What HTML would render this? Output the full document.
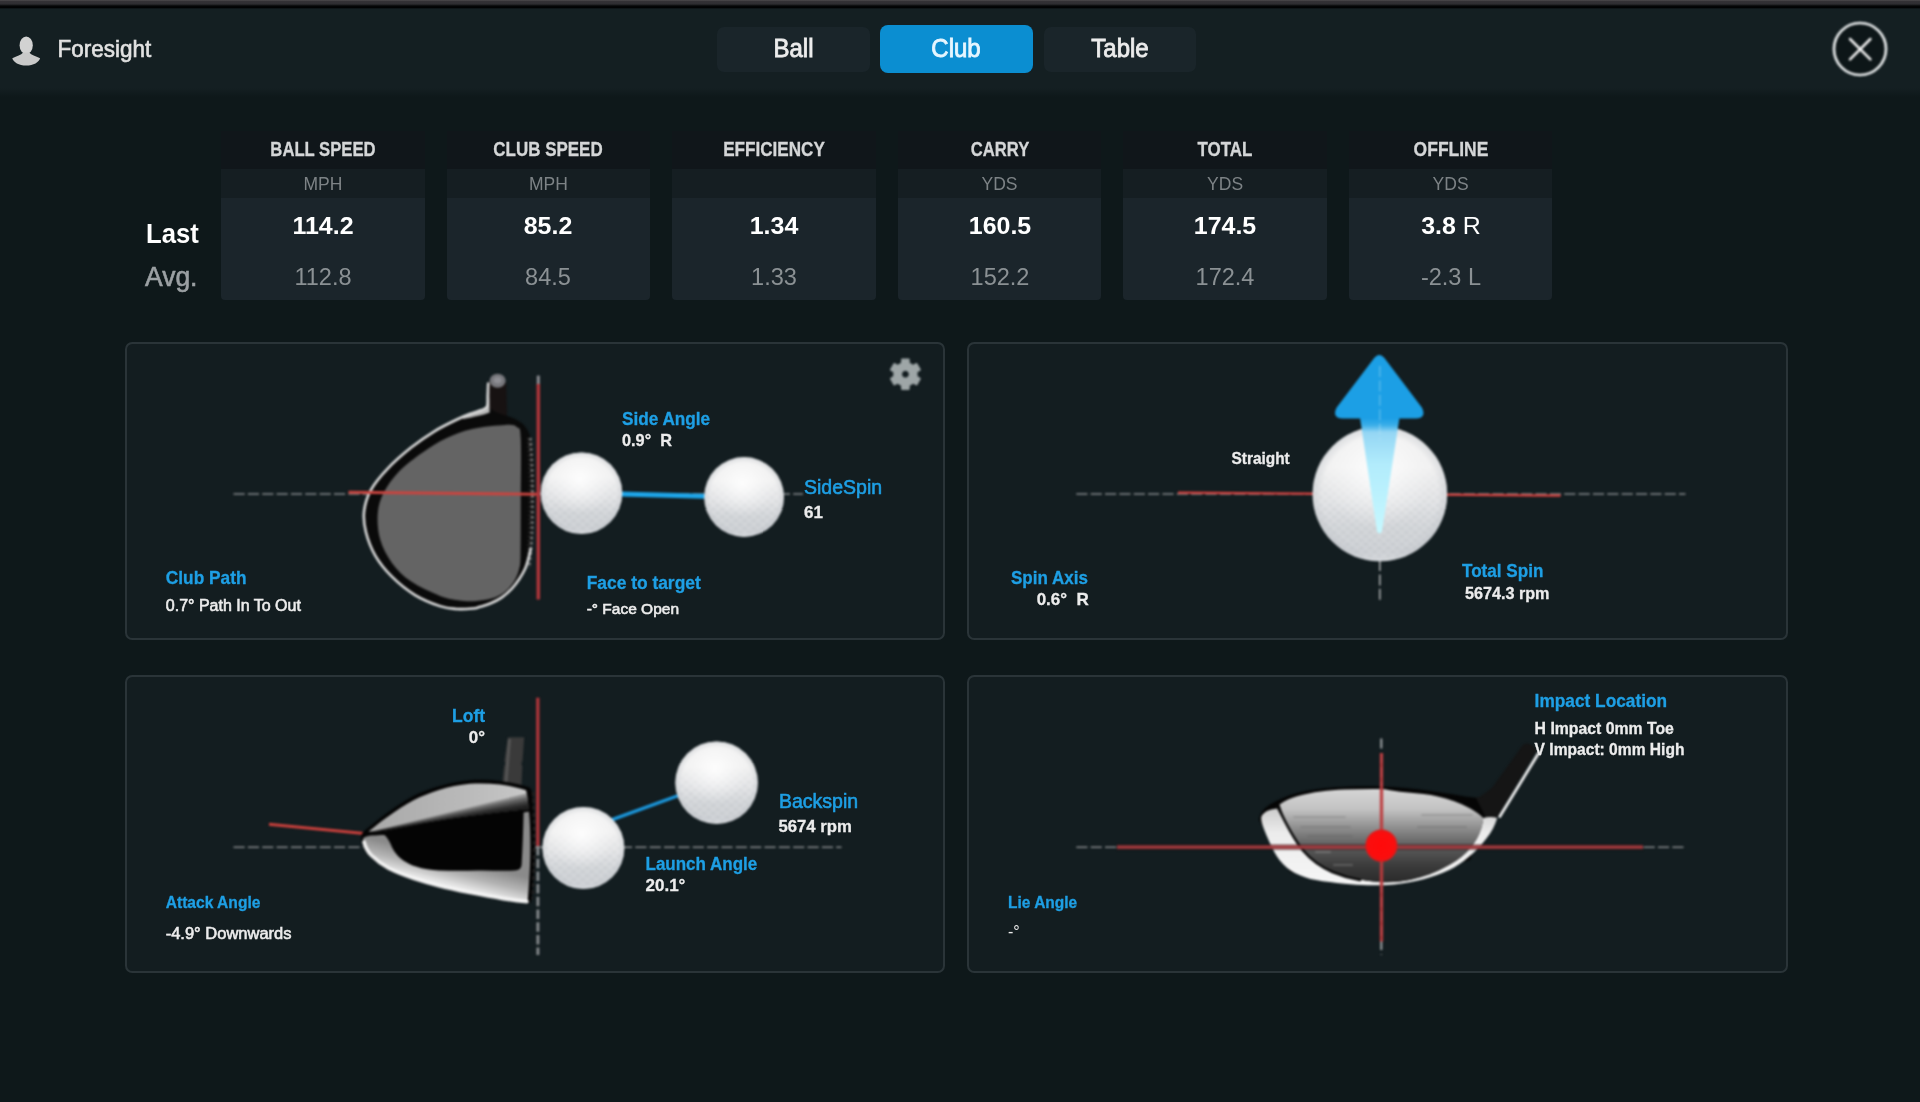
<!DOCTYPE html>
<html lang="en">
<head>
<meta charset="utf-8">
<title>Foresight - Club Data</title>
<style>
html,body{margin:0;padding:0}
body{width:1920px;height:1102px;overflow:hidden;position:relative;background:#0e181a;
 font-family:"Liberation Sans",sans-serif;color:#ececec}
.abs{position:absolute}
.t{position:absolute;line-height:1;white-space:pre;margin:0}
.topstrip{position:absolute;left:0;top:0;width:1920px;height:9px;
 background:linear-gradient(to bottom,#4e4b4e 0,#333135 1.5px,#2e2d31 4px,#050607 6px,#020304 7.5px,#141f22 9px)}
.header{position:absolute;left:0;top:0;width:1920px;height:98px;
 background:linear-gradient(to bottom,#141f22 0,#141f22 88px,#0e181a 97px)}
.tab{position:absolute;border-radius:7px;background:#1a252a}
.tab.on{background:#0b8ed1;border-radius:8px}
.card-h{position:absolute;background:#10161a}
.card-u{position:absolute;background:#151e22}
.card-v{position:absolute;background:#1b252b;border-radius:0 0 4px 4px}
.panel{position:absolute;box-sizing:border-box;border:2.6px solid #2a3438;border-radius:7.2px;background:#131d20}
svg{position:absolute;left:0;top:0;overflow:visible}
.gfx{filter:blur(0.8px)}
.t{filter:blur(0.55px)}
.panel,.tab,.card-h,.card-u,.card-v{filter:blur(0.6px)}
</style>
</head>
<body>
<div class="header"></div>
<div class="topstrip"></div>

<svg width="60" height="90" viewBox="0 0 60 90">
 <ellipse cx="26.2" cy="45.2" rx="6.6" ry="8.8" fill="#d2d2d2"/>
 <path d="M12.3 58.2 C17 56.2 21 55 23.2 52.5 L29.2 52.5 C31.4 55 35.4 56.2 40.1 58.2 C39 62.2 33.5 65.6 26.2 65.6 C18.9 65.6 13.4 62.2 12.3 58.2Z" fill="#c9c9c9"/>
</svg>
<div class="t" style="top:38.95px;font-size:22.50px;font-weight:400;color:#e2e2e2;left:57.50px;transform:scale(1.000,1.060);transform-origin:left 84.65%;-webkit-text-stroke:0.6px #e2e2e2;">Foresight</div>
<div class="tab" style="left:717px;top:26.5px;width:153px;height:45.5px"></div>
<div class="tab on" style="left:879.5px;top:25px;width:153.5px;height:47.5px"></div>
<div class="tab" style="left:1044px;top:26.5px;width:152px;height:45.5px"></div>
<div class="t" style="top:37.38px;font-size:24.00px;font-weight:400;color:#ececec;left:593.50px;width:400px;text-align:center;transform:scale(1.000,1.040);transform-origin:center 84.65%;-webkit-text-stroke:0.6px #ececec;-webkit-text-stroke:0.8px #ececec;">Ball</div>
<div class="t" style="top:37.38px;font-size:24.00px;font-weight:400;color:#e6f6ff;left:756.00px;width:400px;text-align:center;transform:scale(1.000,1.040);transform-origin:center 84.65%;-webkit-text-stroke:0.6px #e6f6ff;-webkit-text-stroke:0.8px #e6f6ff;">Club</div>
<div class="t" style="top:37.38px;font-size:24.00px;font-weight:400;color:#ececec;left:920.00px;width:400px;text-align:center;transform:scale(1.000,1.040);transform-origin:center 84.65%;-webkit-text-stroke:0.6px #ececec;-webkit-text-stroke:0.8px #ececec;">Table</div>
<svg class="gfx" width="1920" height="100" viewBox="0 0 1920 100">
 <circle cx="1860" cy="49" r="26" fill="#0d1618" stroke="#e8ebec" stroke-width="2.7"/>
 <path d="M1850 39 L1870.4 59.4 M1870.4 39 L1850 59.4" stroke="#f2f2f2" stroke-width="2.5" stroke-linecap="round" fill="none"/>
</svg>
<div class="t" style="top:221.04px;font-size:27.00px;font-weight:700;color:#ffffff;left:145.50px;transform:scale(0.950,1.000);transform-origin:left 84.65%;">Last</div>
<div class="t" style="top:264.14px;font-size:27.00px;font-weight:400;color:#9ca1a4;left:145.00px;transform:scale(0.980,1.000);transform-origin:left 84.65%;-webkit-text-stroke:0.6px #9ca1a4;">Avg.</div>
<div class="card-h" style="left:221.25px;top:131px;width:203.25px;height:38px"></div>
<div class="card-u" style="left:221.25px;top:169px;width:203.25px;height:29px"></div>
<div class="card-v" style="left:221.25px;top:198px;width:203.25px;height:102px"></div>
<div class="t" style="top:139.92px;font-size:19.00px;font-weight:700;color:#d4d6d7;left:122.88px;width:400px;text-align:center;transform:scale(0.877,1.100);transform-origin:center 84.65%;-webkit-text-stroke:0.3px #d4d6d7;">BALL SPEED</div>
<div class="t" style="top:175.94px;font-size:17.50px;font-weight:400;color:#7d8386;left:122.88px;width:400px;text-align:center;">MPH</div>
<div class="t" style="top:214.18px;font-size:24.00px;font-weight:700;color:#ffffff;left:122.88px;width:400px;text-align:center;transform:scale(1.040,1.000);transform-origin:center 84.65%;">114.2</div>
<div class="t" style="top:264.68px;font-size:24.00px;font-weight:400;color:#8b9194;left:122.88px;width:400px;text-align:center;transform:scale(0.980,1.000);transform-origin:center 84.65%;">112.8</div>
<div class="card-h" style="left:446.80px;top:131px;width:203.25px;height:38px"></div>
<div class="card-u" style="left:446.80px;top:169px;width:203.25px;height:29px"></div>
<div class="card-v" style="left:446.80px;top:198px;width:203.25px;height:102px"></div>
<div class="t" style="top:139.92px;font-size:19.00px;font-weight:700;color:#d4d6d7;left:348.42px;width:400px;text-align:center;transform:scale(0.893,1.100);transform-origin:center 84.65%;-webkit-text-stroke:0.3px #d4d6d7;">CLUB SPEED</div>
<div class="t" style="top:175.94px;font-size:17.50px;font-weight:400;color:#7d8386;left:348.42px;width:400px;text-align:center;">MPH</div>
<div class="t" style="top:214.18px;font-size:24.00px;font-weight:700;color:#ffffff;left:348.42px;width:400px;text-align:center;transform:scale(1.040,1.000);transform-origin:center 84.65%;">85.2</div>
<div class="t" style="top:264.68px;font-size:24.00px;font-weight:400;color:#8b9194;left:348.42px;width:400px;text-align:center;transform:scale(0.980,1.000);transform-origin:center 84.65%;">84.5</div>
<div class="card-h" style="left:672.35px;top:131px;width:203.25px;height:38px"></div>
<div class="card-u" style="left:672.35px;top:169px;width:203.25px;height:29px"></div>
<div class="card-v" style="left:672.35px;top:198px;width:203.25px;height:102px"></div>
<div class="t" style="top:139.92px;font-size:19.00px;font-weight:700;color:#d4d6d7;left:573.98px;width:400px;text-align:center;transform:scale(0.900,1.100);transform-origin:center 84.65%;-webkit-text-stroke:0.3px #d4d6d7;">EFFICIENCY</div>
<div class="t" style="top:214.18px;font-size:24.00px;font-weight:700;color:#ffffff;left:573.98px;width:400px;text-align:center;transform:scale(1.040,1.000);transform-origin:center 84.65%;">1.34</div>
<div class="t" style="top:264.68px;font-size:24.00px;font-weight:400;color:#8b9194;left:573.98px;width:400px;text-align:center;transform:scale(0.980,1.000);transform-origin:center 84.65%;">1.33</div>
<div class="card-h" style="left:897.90px;top:131px;width:203.25px;height:38px"></div>
<div class="card-u" style="left:897.90px;top:169px;width:203.25px;height:29px"></div>
<div class="card-v" style="left:897.90px;top:198px;width:203.25px;height:102px"></div>
<div class="t" style="top:139.92px;font-size:19.00px;font-weight:700;color:#d4d6d7;left:799.53px;width:400px;text-align:center;transform:scale(0.875,1.100);transform-origin:center 84.65%;-webkit-text-stroke:0.3px #d4d6d7;">CARRY</div>
<div class="t" style="top:175.94px;font-size:17.50px;font-weight:400;color:#7d8386;left:799.53px;width:400px;text-align:center;">YDS</div>
<div class="t" style="top:214.18px;font-size:24.00px;font-weight:700;color:#ffffff;left:799.53px;width:400px;text-align:center;transform:scale(1.040,1.000);transform-origin:center 84.65%;">160.5</div>
<div class="t" style="top:264.68px;font-size:24.00px;font-weight:400;color:#8b9194;left:799.53px;width:400px;text-align:center;transform:scale(0.980,1.000);transform-origin:center 84.65%;">152.2</div>
<div class="card-h" style="left:1123.45px;top:131px;width:203.25px;height:38px"></div>
<div class="card-u" style="left:1123.45px;top:169px;width:203.25px;height:29px"></div>
<div class="card-v" style="left:1123.45px;top:198px;width:203.25px;height:102px"></div>
<div class="t" style="top:139.92px;font-size:19.00px;font-weight:700;color:#d4d6d7;left:1025.08px;width:400px;text-align:center;transform:scale(0.892,1.100);transform-origin:center 84.65%;-webkit-text-stroke:0.3px #d4d6d7;">TOTAL</div>
<div class="t" style="top:175.94px;font-size:17.50px;font-weight:400;color:#7d8386;left:1025.08px;width:400px;text-align:center;">YDS</div>
<div class="t" style="top:214.18px;font-size:24.00px;font-weight:700;color:#ffffff;left:1025.08px;width:400px;text-align:center;transform:scale(1.040,1.000);transform-origin:center 84.65%;">174.5</div>
<div class="t" style="top:264.68px;font-size:24.00px;font-weight:400;color:#8b9194;left:1025.08px;width:400px;text-align:center;transform:scale(0.980,1.000);transform-origin:center 84.65%;">172.4</div>
<div class="card-h" style="left:1349.00px;top:131px;width:203.25px;height:38px"></div>
<div class="card-u" style="left:1349.00px;top:169px;width:203.25px;height:29px"></div>
<div class="card-v" style="left:1349.00px;top:198px;width:203.25px;height:102px"></div>
<div class="t" style="top:139.92px;font-size:19.00px;font-weight:700;color:#d4d6d7;left:1250.62px;width:400px;text-align:center;transform:scale(0.920,1.100);transform-origin:center 84.65%;-webkit-text-stroke:0.3px #d4d6d7;">OFFLINE</div>
<div class="t" style="top:175.94px;font-size:17.50px;font-weight:400;color:#7d8386;left:1250.62px;width:400px;text-align:center;">YDS</div>
<div class="t" style="top:214.18px;font-size:24.00px;font-weight:700;color:#ffffff;left:1250.62px;width:400px;text-align:center;transform:scale(1.040,1.000);transform-origin:center 84.65%;">3.8 <span style="font-weight:400">R</span></div>
<div class="t" style="top:264.68px;font-size:24.00px;font-weight:400;color:#8b9194;left:1250.62px;width:400px;text-align:center;transform:scale(0.980,1.000);transform-origin:center 84.65%;">-2.3 L</div>
<div class="panel" style="left:124.5px;top:341.8px;width:820.9px;height:298.1px"></div>
<div class="panel" style="left:967.0px;top:341.8px;width:821.3px;height:298.1px"></div>
<div class="panel" style="left:124.5px;top:674.8px;width:820.9px;height:297.8px"></div>
<div class="panel" style="left:967.0px;top:674.8px;width:821.3px;height:297.8px"></div>
<svg class="gfx" width="1920" height="1102" viewBox="0 0 1920 1102">
<defs>
 <linearGradient id="ball" x1="0" y1="0" x2="0" y2="1">
  <stop offset="0" stop-color="#efefef"/>
  <stop offset="0.3" stop-color="#f1f1f1"/>
  <stop offset="0.55" stop-color="#e4e5e7"/>
  <stop offset="0.75" stop-color="#d4d7da"/>
  <stop offset="0.93" stop-color="#cfd2d6"/>
  <stop offset="1" stop-color="#e2e4e7"/>
 </linearGradient>
 <radialGradient id="ballhl" cx="0.48" cy="0.33" r="0.42">
  <stop offset="0" stop-color="#ffffff" stop-opacity="0.85"/>
  <stop offset="0.6" stop-color="#ffffff" stop-opacity="0.3"/>
  <stop offset="1" stop-color="#ffffff" stop-opacity="0"/>
 </radialGradient>
 <radialGradient id="balledge" cx="0.5" cy="0.5" r="0.5">
  <stop offset="0" stop-color="#b8bcc2" stop-opacity="0"/>
  <stop offset="0.86" stop-color="#b8bcc2" stop-opacity="0"/>
  <stop offset="1" stop-color="#c4c8cd" stop-opacity="0.45"/>
 </radialGradient>
 <pattern id="dimples" width="9" height="7.8" patternUnits="userSpaceOnUse">
  <ellipse cx="2.25" cy="1.95" rx="2.6" ry="1.5" fill="#9aa0a8" fill-opacity="0.16"/>
  <ellipse cx="6.75" cy="5.85" rx="2.6" ry="1.5" fill="#9aa0a8" fill-opacity="0.16"/>
 </pattern>
 <linearGradient id="dimfade" x1="0" y1="0" x2="0" y2="1">
  <stop offset="0.3" stop-color="#fff" stop-opacity="0"/>
  <stop offset="0.62" stop-color="#fff" stop-opacity="0.9"/>
  <stop offset="1" stop-color="#fff" stop-opacity="1"/>
 </linearGradient>
 <linearGradient id="arrowg" x1="0" y1="354" x2="0" y2="532" gradientUnits="userSpaceOnUse">
  <stop offset="0" stop-color="#1c9fe5"/>
  <stop offset="0.36" stop-color="#1c9fe5"/>
  <stop offset="0.40" stop-color="#3aaee9"/>
  <stop offset="0.44" stop-color="#94d6f4"/>
  <stop offset="0.62" stop-color="#b2ecfc"/>
  <stop offset="1" stop-color="#c6f8ff"/>
 </linearGradient>
 <linearGradient id="crowng" x1="365" y1="0" x2="530" y2="0" gradientUnits="userSpaceOnUse">
  <stop offset="0" stop-color="#a8a8a8"/>
  <stop offset="0.5" stop-color="#b6b6b6"/>
  <stop offset="0.85" stop-color="#c2c2c2"/>
  <stop offset="1" stop-color="#cacaca"/>
 </linearGradient>
 <linearGradient id="soleg" x1="450" y1="890" x2="457.5" y2="860" gradientUnits="userSpaceOnUse">
  <stop offset="0" stop-color="#f6f6f6"/>
  <stop offset="0.2" stop-color="#e2e2e2"/>
  <stop offset="0.55" stop-color="#b4b4b4"/>
  <stop offset="1" stop-color="#8a8a8a"/>
 </linearGradient>
 <linearGradient id="solef" x1="0" y1="805" x2="0" y2="886" gradientUnits="userSpaceOnUse">
  <stop offset="0" stop-color="#c8c8c8"/>
  <stop offset="0.35" stop-color="#ececec"/>
  <stop offset="1" stop-color="#f6f6f6"/>
 </linearGradient>
 <linearGradient id="faceg" x1="0" y1="789" x2="0" y2="882" gradientUnits="userSpaceOnUse">
  <stop offset="0" stop-color="#d6d6d6"/>
  <stop offset="0.22" stop-color="#c2c2c2"/>
  <stop offset="0.42" stop-color="#8e8e8e"/>
  <stop offset="0.62" stop-color="#5c5c5c"/>
  <stop offset="0.82" stop-color="#3c3c3c"/>
  <stop offset="1" stop-color="#2a2a2a"/>
 </linearGradient>
 <radialGradient id="dotg" cx="0.5" cy="0.5" r="0.5">
  <stop offset="0" stop-color="#ff0a0a"/>
  <stop offset="0.8" stop-color="#fb0e0e"/>
  <stop offset="1" stop-color="#e01818"/>
 </radialGradient>
</defs>
<path d="M233.5 493.9 H803" stroke="#85898b" stroke-width="1.55" stroke-dasharray="11.2 3.15" fill="none"/>
<g transform="translate(340 360) scale(0.23599)">
<path d="M630 92 L704 92 L708 240 L622 240 L624 150Z" fill="#171212"/>
<path d="M622.0 205.0C604.7 205.5 580.3 217.5 560.0 225.0C539.7 232.5 526.7 237.2 500.0 250.0C473.3 262.8 433.3 281.7 400.0 302.0C366.7 322.3 333.3 345.3 300.0 372.0C266.7 398.7 228.3 432.0 200.0 462.0C171.7 492.0 146.3 522.0 130.0 552.0C113.7 582.0 105.3 612.3 102.0 642.0C98.7 671.7 102.0 698.7 110.0 730.0C118.0 761.3 131.7 798.7 150.0 830.0C168.3 861.3 192.0 890.3 220.0 918.0C248.0 945.7 284.0 975.2 318.0 996.0C352.0 1016.8 394.8 1033.2 424.0 1043.0C453.2 1052.8 470.0 1053.3 493.0 1055.0C516.0 1056.7 545.3 1054.5 562.0 1053.0C578.7 1051.5 580.2 1049.7 593.0 1046.0C605.8 1042.3 623.5 1037.7 639.0 1031.0C654.5 1024.3 671.2 1016.3 686.0 1006.0C700.8 995.7 715.8 981.8 728.0 969.0C740.2 956.2 749.7 942.8 759.0 929.0C768.3 915.2 777.3 901.0 784.0 886.0C790.7 871.0 794.8 854.3 799.0 839.0C803.2 823.7 806.2 810.5 809.0 794.0C811.8 777.5 813.8 764.0 816.0 740.0C818.2 716.0 820.7 681.7 822.0 650.0C823.3 618.3 824.0 583.3 824.0 550.0C824.0 516.7 823.3 480.0 822.0 450.0C820.7 420.0 819.3 393.0 816.0 370.0C812.7 347.0 808.3 328.0 802.0 312.0C795.7 296.0 788.0 284.3 778.0 274.0C768.0 263.7 754.0 256.3 742.0 250.0C730.0 243.7 719.0 240.7 706.0 236.0C693.0 231.3 678.0 227.2 664.0 222.0C650.0 216.8 639.3 204.5 622.0 205.0Z" fill="#0a0a0a"/>
<path d="M806 330 C814 420 816 520 815 600 C815 700 812 800 800 880" stroke="#8c8c8c" stroke-width="13" stroke-dasharray="12 10" fill="none" opacity="0.8"/>
<path d="M797 330 C803 420 805 520 804 600 C804 700 801 800 790 880" stroke="#2c2c2c" stroke-width="10" stroke-dasharray="7 11" fill="none"/>
<path d="M628.0 100.0C627.7 108.3 626.7 134.0 626.0 150.0C625.3 166.0 628.3 185.7 624.0 196.0C619.7 206.3 610.7 207.2 600.0 212.0C589.3 216.8 576.7 218.7 560.0 225.0C543.3 231.3 526.7 237.2 500.0 250.0C473.3 262.8 433.3 281.7 400.0 302.0C366.7 322.3 333.3 345.3 300.0 372.0C266.7 398.7 228.3 432.0 200.0 462.0C171.7 492.0 146.3 522.0 130.0 552.0C113.7 582.0 105.3 612.3 102.0 642.0C98.7 671.7 102.0 698.7 110.0 730.0C118.0 761.3 131.7 798.7 150.0 830.0C168.3 861.3 192.0 890.3 220.0 918.0C248.0 945.7 284.0 975.2 318.0 996.0C352.0 1016.8 394.8 1033.2 424.0 1043.0C453.2 1052.8 470.0 1053.3 493.0 1055.0C516.0 1056.7 545.3 1054.5 562.0 1053.0C578.7 1051.5 580.2 1049.7 593.0 1046.0C605.8 1042.3 623.5 1037.7 639.0 1031.0C654.5 1024.3 671.2 1016.3 686.0 1006.0C700.8 995.7 715.8 981.8 728.0 969.0C740.2 956.2 749.7 942.8 759.0 929.0C768.3 915.2 777.3 901.0 784.0 886.0C790.7 871.0 795.0 853.3 799.0 839.0C803.0 824.7 806.5 806.5 808.0 800.0" fill="none" stroke="#dcdcdc" stroke-width="11" stroke-linecap="round"/>
<path d="M520 240 C560 226 596 216 620 203 L624 130 L632 130 L634 222 C610 232 570 240 520 250Z" fill="#d8d8d8" opacity="0.85"/>
<ellipse cx="668" cy="88" rx="34" ry="30" fill="#77777c"/>
<ellipse cx="668" cy="86" rx="17" ry="14" fill="#8e8e94"/>
<path d="M700.0 275.0C668.3 276.2 601.7 282.5 560.0 292.0C518.3 301.5 485.0 315.3 450.0 332.0C415.0 348.7 383.3 368.7 350.0 392.0C316.7 415.3 277.5 443.7 250.0 472.0C222.5 500.3 200.0 532.3 185.0 562.0C170.0 591.7 162.5 617.0 160.0 650.0C157.5 683.0 160.0 725.0 170.0 760.0C180.0 795.0 198.3 830.3 220.0 860.0C241.7 889.7 266.0 914.7 300.0 938.0C334.0 961.3 390.7 986.7 424.0 1000.0C457.3 1013.3 477.0 1014.3 500.0 1018.0C523.0 1021.7 541.3 1022.5 562.0 1022.0C582.7 1021.5 606.0 1018.7 624.0 1015.0C642.0 1011.3 655.7 1007.2 670.0 1000.0C684.3 992.8 698.2 983.3 710.0 972.0C721.8 960.7 732.8 946.3 741.0 932.0C749.2 917.7 755.0 903.0 759.0 886.0C763.0 869.0 763.8 877.7 765.0 830.0C766.2 782.3 765.8 683.3 766.0 600.0C766.2 516.7 768.7 382.5 766.0 330.0C763.3 277.5 761.0 294.2 750.0 285.0C739.0 275.8 731.7 273.8 700.0 275.0Z" fill="#646464"/>
</g>
<path d="M348.5 492.3 L537.5 494.2" stroke="#c9443f" stroke-width="2.9" fill="none"/>
<path d="M538.3 375.6 V385" stroke="#8d8d93" stroke-width="3" fill="none"/>
<path d="M538.3 384 V599.5" stroke="#b0363b" stroke-width="3.5" fill="none"/>
<path d="M610 493.7 L715 496.4" stroke="#1ea5e8" stroke-width="5" fill="none"/>
<g><circle cx="581.5" cy="493.2" r="40.8" fill="url(#ball)"/><mask id="m581493"><circle cx="581.5" cy="493.2" r="40.8" fill="url(#dimfade)"/></mask><circle cx="581.5" cy="493.2" r="39.3" fill="url(#dimples)" mask="url(#m581493)"/><circle cx="581.5" cy="493.2" r="40.8" fill="url(#ballhl)"/><circle cx="581.5" cy="493.2" r="40.8" fill="url(#balledge)"/></g>
<g><circle cx="744.1" cy="497.0" r="39.9" fill="url(#ball)"/><mask id="m744497"><circle cx="744.1" cy="497.0" r="39.9" fill="url(#dimfade)"/></mask><circle cx="744.1" cy="497.0" r="38.4" fill="url(#dimples)" mask="url(#m744497)"/><circle cx="744.1" cy="497.0" r="39.9" fill="url(#ballhl)"/><circle cx="744.1" cy="497.0" r="39.9" fill="url(#balledge)"/></g>
<path d="M901.89 363.25 L902.01 359.38 L908.79 359.38 L908.91 363.25 L913.13 365.69 L916.54 363.85 L919.93 369.73 L916.64 371.76 L916.64 376.64 L919.93 378.67 L916.54 384.55 L913.13 382.71 L908.91 385.15 L908.79 389.02 L902.01 389.02 L901.89 385.15 L897.67 382.71 L894.26 384.55 L890.87 378.67 L894.16 376.64 L894.16 371.76 L890.87 369.73 L894.26 363.85 L897.67 365.69Z M905.40 369.90 a4.3 4.3 0 1 0 0.01 0Z" fill="#9ea6a7" fill-rule="evenodd" stroke="#9ea6a7" stroke-width="1.8" stroke-linejoin="round"/>
<path d="M1076.3 494 H1685.5" stroke="#85898b" stroke-width="1.55" stroke-dasharray="11.2 3.15" fill="none"/>
<path d="M1178 492.6 L1560.7 495.6" stroke="#d6403e" stroke-width="2.3" fill="none"/>
<path d="M1379.8 560 V601.5" stroke="#a9acad" stroke-width="1.6" stroke-dasharray="11 3.4" fill="none"/>
<g><circle cx="1379.9" cy="494.0" r="67.3" fill="url(#ball)"/><mask id="m1379494"><circle cx="1379.9" cy="494.0" r="67.3" fill="url(#dimfade)"/></mask><circle cx="1379.9" cy="494.0" r="65.8" fill="url(#dimples)" mask="url(#m1379494)"/><circle cx="1379.9" cy="494.0" r="67.3" fill="url(#ballhl)"/><circle cx="1379.9" cy="494.0" r="67.3" fill="url(#balledge)"/></g>
<path d="M1379.3 357.5 Q1379.3 354 1384 359 L1421 408 Q1425.5 417.5 1416 417.5 L1398.5 417.5 L1381 531 Q1379.5 534 1378 531 L1361 417.5 L1342.5 417.5 Q1333 417.5 1337.5 408 L1374.6 359 Q1379.3 354 1379.3 357.5Z" fill="url(#arrowg)" stroke="url(#arrowg)" stroke-width="2" stroke-linejoin="round"/>
<path d="M1379.8 366 V440" stroke="#bfe6f7" stroke-opacity="0.32" stroke-width="1.6" stroke-dasharray="11 3.4" fill="none"/>
<path d="M233.5 847.3 H841.5" stroke="#85898b" stroke-width="1.55" stroke-dasharray="11.2 3.15" fill="none"/>
<path d="M537.9 846 V955" stroke="#8a8e90" stroke-width="2.8" stroke-dasharray="9.5 3.2" fill="none"/>
<path d="M269 824.3 L364 833.5" stroke="#c9403c" stroke-width="3" fill="none"/>
<path d="M507.9 737.2 L524.2 737.2 L522.6 760.5 L521.4 763.6 L522.4 766.5 L521.5 785 L502.1 784 L504 766.5 L505.2 763.6 L504.4 760.5Z" fill="#3a3a3a"/>
<path d="M509.5 739 L506 782" stroke="#555" stroke-width="3" fill="none"/>
<path d="M361.3 835 C363 831.5 366 829.5 370 826.3 C376 821.5 382 816.5 388 812.3 C396 806.8 404 801 413 796.3 C421 792 430 789 439 786.3 C449 783.3 459 781.3 470 780.3 C480 779.4 490 779.8 500 781 C510 782.2 520 784.5 528.3 787 C530.5 787.7 531.3 789 531.8 791 C534.5 810 535.2 830 535 846 C534.8 866 533.5 885 531.3 900.5 C530.8 903 529.5 903.6 527 903.4 C519 902.6 511 901.3 503 900 C494 898.6 485 897 476 895.3 C467 893.6 458 891.8 449 889.7 C440 887.6 430.5 885 421.5 882.2 C412 879.3 403 876.5 394.5 873 C388 870.3 381.5 866.5 376 862 C371.5 858.3 368 855 365.3 851 C362.5 846.8 360.5 840.5 361.3 835Z" fill="#040404"/>
<clipPath id="crownclip"><path d="M368.5 831.6 C375 826.5 381.5 821 388.1 816.5 C396 811 404.5 805 413.5 800.3 C421.5 796.2 430 792.8 438.9 790 C449 786.9 459.5 784.8 470 783.8 C480 783 490 783.4 500 784.6 C509 785.7 518 787.8 526 790.2 C527.5 796 528.3 803 528.5 809.3 C520 810 511.5 810.8 503 811.8 C491 813.2 479 814.7 467 816.3 C455 817.9 443 819.7 430.8 821.7 C425 822.6 419.3 823.8 413.5 825 C405 826.7 396.5 828.5 388.1 830 C381.5 831.2 375 832 368.5 831.6Z"/></clipPath>
<path d="M368.5 831.6 C375 826.5 381.5 821 388.1 816.5 C396 811 404.5 805 413.5 800.3 C421.5 796.2 430 792.8 438.9 790 C449 786.9 459.5 784.8 470 783.8 C480 783 490 783.4 500 784.6 C509 785.7 518 787.8 526 790.2 C527.5 796 528.3 803 528.5 809.3 C520 810 511.5 810.8 503 811.8 C491 813.2 479 814.7 467 816.3 C455 817.9 443 819.7 430.8 821.7 C425 822.6 419.3 823.8 413.5 825 C405 826.7 396.5 828.5 388.1 830 C381.5 831.2 375 832 368.5 831.6Z" fill="url(#crowng)"/>
<g clip-path="url(#crownclip)" fill="#000" fill-opacity="0.3">
<path d="M366 832.8 L531 792.5 L531 812 L366 835Z"/>
<path d="M366 832.8 L531 796.0 L531 812 L366 835Z"/>
<path d="M366 832.8 L531 799.5 L531 812 L366 835Z"/>
<path d="M366 832.8 L531 802.5 L531 812 L366 835Z"/>
<path d="M366 832.8 L531 805.0 L531 812 L366 835Z"/>
<path d="M366 832.8 L531 807.5 L531 812 L366 835Z"/>
</g>
<path d="M363 838.3 C366 836.3 369 835.8 372 835.6 C376 835.3 380.5 835 384.3 835 C386.5 836.5 388 839 389.4 841.5 C391 845 392.5 848.5 394.4 851.5 C396.8 855.2 399.8 858 403.3 860.4 C407.2 863 411.5 865 416 866.6 C423.5 869.2 431 870 439 870.4 C452 871 465 870.8 478 870.6 C490 870.4 503 871.2 515 870.6 C519 870.2 521.2 868.5 521.6 865 C522.6 848 523.2 830 523.6 812.5 C525.5 812 527.3 811.8 529 811.8 C530.3 825 530.5 840 530.3 855 C530 870 529 886 527.6 901.4 C519 900.6 511 899.4 503 898.1 C492 896.4 481 894.3 470 892.1 C459.5 890 449.2 887.9 439 885.3 C430.5 883.1 422 880.6 413.5 877.8 C405 875 397 872.3 389 868 C383.5 865 379 861.5 375 857.5 C371 853.5 368 850 366 846 C364.5 843.5 363.5 841 363 838.3Z" fill="url(#soleg)"/>
<path d="M364 842 C365 846.5 367.5 851.5 371.5 855.5 C376.5 860.5 382.5 865 389 868.5 C397 872.5 405 875.5 413.5 878.3 C422 881.1 430.5 883.6 439 885.8 C449.2 888.4 459.5 890.5 470 892.6 C481 894.8 492 896.9 503 898.6 C511 899.9 519 901 527 901.6" stroke="#fafafa" stroke-width="3.6" fill="none" stroke-linecap="round" opacity="0.95"/>
<path d="M533.2 792 C535 820 535 870 532.5 899" stroke="#202020" stroke-width="3" stroke-dasharray="4 3" fill="none"/>
<path d="M537.8 697.7 V846" stroke="#b0363b" stroke-width="3.3" fill="none"/>
<path d="M606 821.8 L684 793.5" stroke="#1b97dc" stroke-width="3.4" fill="none"/>
<g><circle cx="583.4" cy="848.0" r="41.0" fill="url(#ball)"/><mask id="m583848"><circle cx="583.4" cy="848.0" r="41.0" fill="url(#dimfade)"/></mask><circle cx="583.4" cy="848.0" r="39.5" fill="url(#dimples)" mask="url(#m583848)"/><circle cx="583.4" cy="848.0" r="41.0" fill="url(#ballhl)"/><circle cx="583.4" cy="848.0" r="41.0" fill="url(#balledge)"/></g>
<g><circle cx="716.6" cy="782.7" r="41.3" fill="url(#ball)"/><mask id="m716782"><circle cx="716.6" cy="782.7" r="41.3" fill="url(#dimfade)"/></mask><circle cx="716.6" cy="782.7" r="39.8" fill="url(#dimples)" mask="url(#m716782)"/><circle cx="716.6" cy="782.7" r="41.3" fill="url(#ballhl)"/><circle cx="716.6" cy="782.7" r="41.3" fill="url(#balledge)"/></g>
<path d="M1076.3 847.3 H1119 M1643.6 847.3 H1685" stroke="#85898b" stroke-width="1.55" stroke-dasharray="11.2 3.15" fill="none"/>
<path d="M1381.3 738.5 V955" stroke="#a2a5a7" stroke-width="2" stroke-dasharray="10 4.4" fill="none"/>
<path d="M1521.9 746.2 C1524 743.5 1527 743 1530 744.3 C1533 745.6 1535.5 747.5 1536.6 750.2 L1499.5 813.5 C1497 818 1494 822 1490 824 L1470 806 L1455 797.5 C1463 797.8 1472 798.5 1480.2 796.4 C1485 793.5 1489 790.5 1492.6 787.1Z" fill="#151515"/>
<path d="M1538.4 753.5 L1499.8 816.5" stroke="#f2f2f2" stroke-width="2.8" fill="none" stroke-linecap="round"/>
<path d="M1259 820 C1259.5 814 1263 809 1270 804.5 C1279 799 1288 795.5 1297.2 793 C1312 789.5 1328 787.6 1344.3 786.8 C1356 786.3 1368 786.2 1379.7 786.4 C1397 786.7 1414 788.3 1430.9 791 C1446 793.3 1462 796 1476 798 L1486 818 L1470 860 L1381 886 L1290 872Z" fill="#050505"/>
<path d="M1261.2 817.2 C1263 812.5 1268 809.5 1277.1 808.5 C1285 822 1293 838 1303.1 850.2 C1312 861 1322 867 1332.5 871.4 C1347 877.5 1363 880.8 1379.7 882 C1386 882.4 1393 882.3 1400 881.5 C1413 880 1426 876 1438.6 870.4 C1447 866.5 1455 862 1461.7 856.5 C1468 851.3 1473.5 845 1477.2 838 C1480.5 832 1482.5 825 1483.3 818 C1488 816.5 1493 816.5 1497.2 818 C1495 825.5 1491.5 832 1486.4 838.6 C1482.5 843.7 1478 849 1472.5 853.8 C1467 858.6 1461 863.5 1454 867.5 C1447 871.5 1439 874.5 1430.9 877 C1421 880.1 1411 882.3 1400 883.8 C1389.5 885.2 1379 885.5 1367.9 885.2 C1360 885 1352 884.4 1344.3 883.7 C1334.5 882.8 1325 881.6 1316 880 C1308.5 878.7 1301.5 876.2 1294.8 872.9 C1289 870 1284 865.5 1279.5 859.9 C1275.5 854.9 1272.5 849 1270 843.3 C1267.5 837.5 1264.8 832 1263 826.6 C1261.8 823 1261 820 1261.2 817.2Z" fill="url(#solef)"/>
<path d="M1279.5 804.4 C1285 800.5 1291 798 1297.2 796.2 C1305 793.9 1313 792.4 1320.8 791.4 C1328.5 790.4 1336.5 789.9 1344.3 789.6 C1356 789.1 1368 788.9 1379.7 789 C1386.5 789.1 1393.5 791 1400 791.8 C1410.5 793.1 1421 793.2 1430.9 795 C1441.5 796.9 1452 800 1461.7 804.3 C1470 808 1478 812.5 1483.3 818 C1482.5 825 1480.5 832 1477.2 838 C1473.5 845 1468 851.3 1461.7 856.5 C1455 862 1447 866.5 1438.6 870.4 C1426 876 1413 880 1400 881.5 C1393 882.3 1386 882.4 1379.7 882 C1363 880.8 1347 877.5 1332.5 871.4 C1322 867 1312 861 1303.1 850.2 C1293 838 1285 822 1279.5 804.4Z" fill="url(#faceg)"/>
<path d="M1277.6 806 C1285 822 1293 838 1303.1 850.5 C1312 861 1322 867.5 1332.5 872 C1342 876 1351 878.5 1360 880" stroke="#0a0a0a" stroke-width="2.6" fill="none" stroke-linecap="round"/>
<g stroke-linecap="round" fill="none" opacity="0.55"><path d="M1294 817 H1345" stroke="#8c8c8c" stroke-width="2"/><path d="M1301 827 H1350" stroke="#7a7a7a" stroke-width="2"/><path d="M1308 836 H1352" stroke="#6a6a6a" stroke-width="2"/><path d="M1422 815 H1472" stroke="#8c8c8c" stroke-width="2"/><path d="M1418 827 H1466" stroke="#777" stroke-width="2"/><path d="M1316 852 H1330" stroke="#8a8a8a" stroke-width="2"/><path d="M1334 865 H1352" stroke="#777" stroke-width="2"/></g>
<path d="M1117 847.1 H1643" stroke="#240a0d" stroke-width="6.4" stroke-opacity="0.4" fill="none"/>
<path d="M1117 847.1 H1643" stroke="#a23a3e" stroke-width="3.7" stroke-opacity="0.93" fill="none"/>
<path d="M1381.5 753 V941.6" stroke="#bd3a3c" stroke-width="3.4" stroke-opacity="0.9" fill="none"/>
<circle cx="1381.4" cy="845.6" r="16" fill="url(#dotg)"/>
</svg>
<div class="t" style="top:570.16px;font-size:17.30px;font-weight:700;color:#1e9fe4;left:165.80px;transform:scale(1.000,1.100);transform-origin:left 84.65%;-webkit-text-stroke:0.3px #1e9fe4;">Club Path</div>
<div class="t" style="top:597.76px;font-size:16.00px;font-weight:400;color:#ececec;left:165.80px;-webkit-text-stroke:0.6px #ececec;">0.7° Path In To Out</div>
<div class="t" style="top:411.24px;font-size:17.20px;font-weight:700;color:#1e9fe4;left:622.00px;transform:scale(1.000,1.100);transform-origin:left 84.65%;-webkit-text-stroke:0.3px #1e9fe4;">Side Angle</div>
<div class="t" style="top:431.60px;font-size:16.30px;font-weight:700;color:#ececec;left:622.00px;-webkit-text-stroke:0.3px #ececec;">0.9°  R</div>
<div class="t" style="top:478.19px;font-size:19.50px;font-weight:400;color:#1e9fe4;left:804.00px;transform:scale(1.000,1.050);transform-origin:left 84.65%;-webkit-text-stroke:0.6px #1e9fe4;">SideSpin</div>
<div class="t" style="top:503.61px;font-size:17.00px;font-weight:700;color:#ececec;left:804.00px;-webkit-text-stroke:0.3px #ececec;">61</div>
<div class="t" style="top:575.07px;font-size:17.40px;font-weight:700;color:#1e9fe4;left:586.70px;transform:scale(1.000,1.100);transform-origin:left 84.65%;-webkit-text-stroke:0.3px #1e9fe4;">Face to target</div>
<div class="t" style="top:601.18px;font-size:15.50px;font-weight:400;color:#ececec;left:586.70px;-webkit-text-stroke:0.6px #ececec;">-° Face Open</div>
<div class="t" style="top:450.96px;font-size:15.40px;font-weight:700;color:#ececec;left:1231.60px;transform:scale(1.000,1.060);transform-origin:left 84.65%;-webkit-text-stroke:0.3px #ececec;">Straight</div>
<div class="t" style="top:570.21px;font-size:17.00px;font-weight:700;color:#1e9fe4;left:1011.00px;transform:scale(1.000,1.100);transform-origin:left 84.65%;-webkit-text-stroke:0.3px #1e9fe4;">Spin Axis</div>
<div class="t" style="top:591.41px;font-size:17.00px;font-weight:700;color:#ececec;right:831.20px;-webkit-text-stroke:0.3px #ececec;">0.6°  R</div>
<div class="t" style="top:563.32px;font-size:17.10px;font-weight:700;color:#1e9fe4;left:1462.00px;transform:scale(1.000,1.100);transform-origin:left 84.65%;-webkit-text-stroke:0.3px #1e9fe4;">Total Spin</div>
<div class="t" style="top:584.89px;font-size:16.20px;font-weight:700;color:#ececec;left:1464.90px;-webkit-text-stroke:0.3px #ececec;">5674.3 rpm</div>
<div class="t" style="top:708.49px;font-size:17.50px;font-weight:700;color:#1e9fe4;left:452.00px;transform:scale(1.000,1.100);transform-origin:left 84.65%;-webkit-text-stroke:0.3px #1e9fe4;">Loft</div>
<div class="t" style="top:728.91px;font-size:17.00px;font-weight:700;color:#ececec;right:1435.00px;-webkit-text-stroke:0.3px #ececec;">0°</div>
<div class="t" style="top:895.09px;font-size:15.60px;font-weight:700;color:#1e9fe4;left:165.70px;transform:scale(1.000,1.100);transform-origin:left 84.65%;-webkit-text-stroke:0.3px #1e9fe4;">Attack Angle</div>
<div class="t" style="top:924.73px;font-size:16.50px;font-weight:400;color:#ececec;left:165.70px;-webkit-text-stroke:0.6px #ececec;">-4.9° Downwards</div>
<div class="t" style="top:792.19px;font-size:19.50px;font-weight:400;color:#1e9fe4;left:779.00px;transform:scale(1.000,1.050);transform-origin:left 84.65%;-webkit-text-stroke:0.6px #1e9fe4;">Backspin</div>
<div class="t" style="top:819.16px;font-size:16.70px;font-weight:700;color:#ececec;left:778.50px;-webkit-text-stroke:0.3px #ececec;">5674 rpm</div>
<div class="t" style="top:856.11px;font-size:17.00px;font-weight:700;color:#1e9fe4;left:645.50px;transform:scale(1.000,1.100);transform-origin:left 84.65%;-webkit-text-stroke:0.3px #1e9fe4;">Launch Angle</div>
<div class="t" style="top:877.01px;font-size:17.00px;font-weight:700;color:#ececec;left:645.50px;-webkit-text-stroke:0.3px #ececec;">20.1°</div>
<div class="t" style="top:692.76px;font-size:17.30px;font-weight:700;color:#1e9fe4;left:1534.60px;transform:scale(1.000,1.100);transform-origin:left 84.65%;-webkit-text-stroke:0.3px #1e9fe4;">Impact Location</div>
<div class="t" style="top:721.23px;font-size:15.80px;font-weight:700;color:#ececec;left:1534.60px;-webkit-text-stroke:0.3px #ececec;">H Impact 0mm Toe</div>
<div class="t" style="top:741.79px;font-size:15.60px;font-weight:700;color:#ececec;left:1534.60px;-webkit-text-stroke:0.3px #ececec;">V Impact: 0mm High</div>
<div class="t" style="top:895.18px;font-size:15.50px;font-weight:700;color:#1e9fe4;left:1008.00px;transform:scale(1.000,1.100);transform-origin:left 84.65%;-webkit-text-stroke:0.3px #1e9fe4;">Lie Angle</div>
<div class="t" style="top:924.46px;font-size:16.00px;font-weight:400;color:#ececec;left:1008.00px;">-°</div>
</body>
</html>
